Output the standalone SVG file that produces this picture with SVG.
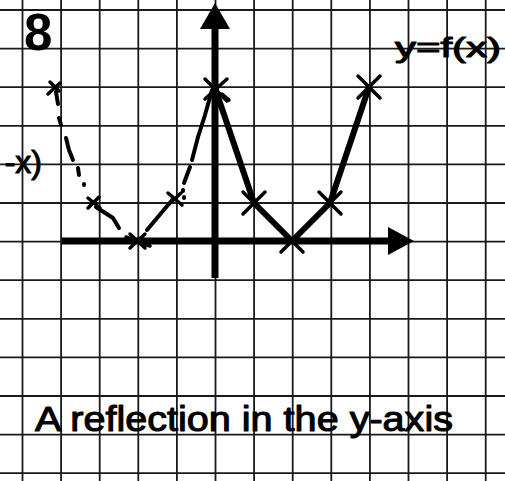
<svg xmlns="http://www.w3.org/2000/svg" width="505" height="481" viewBox="0 0 505 481">
<style>
.grid line{stroke:#1a1a1a;stroke-width:1.8}
.axis{stroke:#000;stroke-width:7;fill:none}
.fx{stroke:#000;stroke-width:6;fill:none;stroke-linecap:round;stroke-linejoin:round}
.cross{stroke:#000;stroke-width:3.5;stroke-linecap:round;fill:none}
.refl{stroke:#000;stroke-width:4;stroke-linecap:round;stroke-linejoin:round;fill:none}
.hand{font-family:"Liberation Sans","DejaVu Sans",sans-serif;fill:#000;stroke:#000;stroke-width:1.1;stroke-linejoin:round}
</style>
<rect width="505" height="481" fill="#fff"/>
<g id="grid" class="grid">
<line x1="22.5" y1="0" x2="22.5" y2="481"/><line x1="61.1" y1="0" x2="61.1" y2="481"/><line x1="99.7" y1="0" x2="99.7" y2="481"/><line x1="138.3" y1="0" x2="138.3" y2="481"/><line x1="176.9" y1="0" x2="176.9" y2="481"/><line x1="215.5" y1="0" x2="215.5" y2="481"/><line x1="254.1" y1="0" x2="254.1" y2="481"/><line x1="292.7" y1="0" x2="292.7" y2="481"/><line x1="331.3" y1="0" x2="331.3" y2="481"/><line x1="369.9" y1="0" x2="369.9" y2="481"/><line x1="408.5" y1="0" x2="408.5" y2="481"/><line x1="447.1" y1="0" x2="447.1" y2="481"/><line x1="485.7" y1="0" x2="485.7" y2="481"/>
<line x1="0" y1="10" x2="505" y2="10"/><line x1="0" y1="48.6" x2="505" y2="48.6"/><line x1="0" y1="87.2" x2="505" y2="87.2"/><line x1="0" y1="125.8" x2="505" y2="125.8"/><line x1="0" y1="164.4" x2="505" y2="164.4"/><line x1="0" y1="203" x2="505" y2="203"/><line x1="0" y1="241.6" x2="505" y2="241.6"/><line x1="0" y1="280.2" x2="505" y2="280.2"/><line x1="0" y1="318.8" x2="505" y2="318.8"/><line x1="0" y1="357.4" x2="505" y2="357.4"/><line x1="0" y1="396" x2="505" y2="396"/><line x1="0" y1="434.6" x2="505" y2="434.6"/><line x1="0" y1="473.2" x2="505" y2="473.2"/>
</g>
<g id="axes">
<line class="axis" x1="215" y1="278" x2="215" y2="26"/>
<polygon points="200,29 215,3 230,29" fill="#000"/>
<line class="axis" x1="62" y1="241" x2="390" y2="241"/>
<polygon points="388,227 414,241 388,255" fill="#000"/>
</g>
<g id="connectors">
<polyline class="fx" points="215,88 254,203 292,241 330,203 369,87"/>
<g id="reflection" class="refl">
<path d="M212,90 L205,115 L198,137 L192,160"/>
<path d="M190,167 L184,183"/>
<path d="M183,190 L183,191"/><path d="M184,197 L184,198"/>
<path d="M147,230 L173,199"/>
<path d="M119,228 L113,218 L96,207"/>
<path d="M84,184 L84,185"/>
<path d="M78,168 L79,175"/>
<path d="M66,138 L69,150 L73,160"/>
<path d="M59,118 L61,125"/>
<path d="M56,92 L58,104"/>
</g>
</g>
<g id="crosses" class="cross">
<path d="M205,79 L227,101 M227,79 L205,99 M222,94 L229,100"/>
<path d="M243,192 L265,214 M265,192 L243,214"/>
<path d="M281,230 L303,252 M303,230 L281,252"/>
<path d="M319,192 L341,214 M341,192 L319,214"/>
<path d="M358,76 L380,98 M380,76 L358,98"/>
<path d="M48,94 L60,83 M50,82 L59,91"/>
<path d="M88,198 L100,208 M88,208 L99,197"/>
<path d="M130,234 L145,248 M130,248 L145,234 M126,237 L150,246"/>
<path d="M168,193 L182,205 M168,205 L181,193"/>
</g>
<g id="labels">
<text x="24" y="50" font-size="51" font-weight="bold" font-family="Liberation Sans, DejaVu Sans, sans-serif" fill="#000">8</text>
<text class="hand" x="395" y="57" font-size="28" textLength="106" lengthAdjust="spacingAndGlyphs">y=f(x)</text>
<text class="hand" x="42" y="173" font-size="32" text-anchor="end">-x)</text>
<text class="hand" x="35" y="431" font-size="35" textLength="418" lengthAdjust="spacingAndGlyphs">A reflection in the y-axis</text>
</g>
</svg>
